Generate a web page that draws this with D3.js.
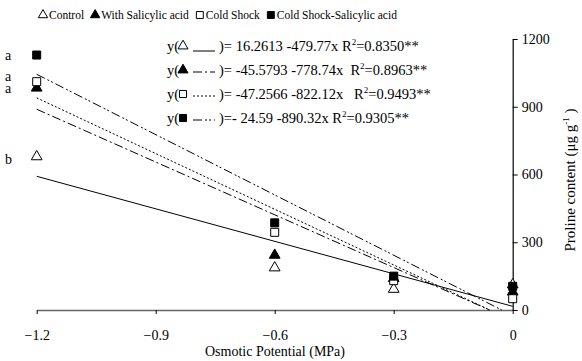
<!DOCTYPE html>
<html>
<head>
<meta charset="utf-8">
<script src="https://cdn.jsdelivr.net/npm/d3@7"></script>
<style>
  body { margin: 0; background: #fff; }
  svg, svg text { font-family: 'Liberation Serif', 'Times New Roman', 'DejaVu Serif', serif; }
</style>
</head>
<body>
<div id="chart"></div>
<script>
// Proline content vs osmotic potential

const xValues = [-1.2, -0.6, -0.3, 0];
const xTicks = [-1.2, -0.9, -0.6, -0.3, 0];
const yTicks = [0, 300, 600, 900, 1200];

const seriesNames = ['Control', 'With Salicylic acid', 'Cold Shock', 'Cold Shock-Salicylic acid'];
const controlVals = [679, 187, 92, 112];
const salicylicVals = [983, 243, 140, 80];
const coldVals = [1011, 344, 130, 50];
const coldSalVals = [1129, 386, 150, 105];

// regression: y = a + b x
const intercepts = [16.2613, -45.5793, -47.2566, -24.59];
const slopes = [-479.77, -778.74, -822.12, -890.32];
const eqTexts = [
  ')= 16.2613 -479.77x R',
  ')= -45.5793 -778.74x  R',
  ')= -47.2566 -822.12x   R',
  ')=- 24.59 -890.32x R'
];
const r2Texts = ['=0.8350**', '=0.8963**', '=0.9493**', '=0.9305**'];

// significance letters at -1.2
const letters = ['a', 'a', 'a', 'b'];
const letterVals = [1125, 1030, 978, 665];

const FONT = "'Liberation Serif', 'Times New Roman', serif";
const width = 582, height = 361;
const svg = d3.select('#chart').append('svg')
  .attr('width', width).attr('height', height)
  .attr('font-family', FONT);

const x = d3.scaleLinear().domain([-1.2, 0]).range([36.7, 512.7]);
const y = d3.scaleLinear().domain([0, 1200]).range([310, 39]);

const dashes = [null, '9,3,2,3', '2,2', '9,3,2,2,2,3'];
const markers = [
  { type: d3.symbolTriangle, fill: '#fff' },
  { type: d3.symbolTriangle, fill: '#000' },
  { type: d3.symbolSquare, fill: '#fff' },
  { type: d3.symbolSquare, fill: '#000' }
];
const allVals = [controlVals, salicylicVals, coldVals, coldSalVals];

// x axis
const xAxis = svg.append('g')
  .attr('transform', `translate(0,${y(0)})`)
  .call(d3.axisBottom(x).tickValues(xTicks).tickSize(4).tickSizeOuter(0)
    .tickFormat(d => d === 0 ? '0' : d3.format('.1f')(d)));
xAxis.attr('font-family', FONT);
xAxis.select('.domain').attr('stroke', '#666').attr('stroke-width', 1.3);
xAxis.selectAll('.tick line').attr('stroke', '#000');
xAxis.selectAll('.tick text')
  .attr('dy', 0).attr('y', 30)
  .attr('font-size', 14).attr('fill', '#000');

// y axis on the right
const yAxis = svg.append('g')
  .attr('transform', `translate(${x(0)},0)`)
  .call(d3.axisRight(y).tickValues(yTicks).tickSize(5).tickSizeOuter(0).tickFormat(d3.format('d')));
yAxis.attr('font-family', FONT);
yAxis.select('.domain').attr('stroke', '#000').attr('stroke-width', 1.2);
yAxis.selectAll('.tick text')
  .attr('x', 9)
  .attr('font-size', 14).attr('fill', '#000');

svg.append('text')
  .attr('x', 275).attr('y', 356)
  .attr('text-anchor', 'middle')
  .attr('font-size', 14)
  .text('Osmotic Potential (MPa)');

const yLab = svg.append('text')
  .attr('transform', 'translate(575,180) rotate(-90)')
  .attr('text-anchor', 'middle')
  .attr('font-size', 15);
yLab.append('tspan').text('Proline content (\u03bcg g');
yLab.append('tspan').attr('dy', -6).attr('font-size', 9).text('-1');
yLab.append('tspan').attr('dy', 6).text(' )');

// regression lines, cut where they reach zero
const lineGen = d3.line().x(d => x(d[0])).y(d => y(d[1]));
intercepts.forEach((a, i) => {
  const b = slopes[i];
  const xEnd = a < 0 ? -a / b : 0;
  const pts = [[-1.2, a + b * -1.2], [xEnd, a + b * xEnd]];
  svg.append('path')
    .attr('d', lineGen(pts))
    .attr('fill', 'none')
    .attr('stroke', '#000')
    .attr('stroke-width', 1)
    .attr('stroke-dasharray', dashes[i]);
});

// points
allVals.forEach((vals, i) => {
  const sym = d3.symbol().type(markers[i].type).size(markers[i].type === d3.symbolSquare ? 64 : 50);
  svg.append('g').selectAll('path')
    .data(vals)
    .enter().append('path')
    .attr('d', sym)
    .attr('transform', (d, j) => `translate(${x(xValues[j])},${y(d)})`)
    .attr('fill', markers[i].fill)
    .attr('stroke', '#000')
    .attr('stroke-width', 1);
});

// letters
svg.append('g').selectAll('text')
  .data(letters)
  .enter().append('text')
  .attr('x', 5)
  .attr('y', (d, i) => y(letterVals[i]) + 4)
  .attr('font-size', 14)
  .text(d => d);

// top legend
const legend = svg.append('g').attr('transform', 'translate(39,16)');
let lx = 0;
seriesNames.forEach((name, i) => {
  const sym = d3.symbol().type(markers[i].type).size(markers[i].type === d3.symbolSquare ? 48 : 38);
  legend.append('path')
    .attr('d', sym)
    .attr('transform', `translate(${lx + 4},-1)`)
    .attr('fill', markers[i].fill)
    .attr('stroke', '#000');
  const t = legend.append('text')
    .attr('x', lx + 10).attr('y', 3)
    .attr('font-size', 11.5)
    .text(name);
  lx += 10 + t.node().getComputedTextLength() + 7;
});

// equations
const eqTop = 51;
const eqStep = 24;
intercepts.forEach((a, i) => {
  const g = svg.append('g').attr('transform', `translate(167,${eqTop + i * eqStep})`);
  g.append('text').attr('x', 0).attr('y', 0).attr('font-size', 14.5).text('y(');
  const sym = d3.symbol().type(markers[i].type).size(markers[i].type === d3.symbolSquare ? 50 : 44);
  g.append('path')
    .attr('d', sym)
    .attr('transform', 'translate(16,-5)')
    .attr('fill', markers[i].fill)
    .attr('stroke', '#000');
  g.append('line')
    .attr('x1', 26).attr('x2', 48)
    .attr('y1', i === 0 ? 0 : -3).attr('y2', i === 0 ? 0 : -3)
    .attr('stroke', '#000')
    .attr('stroke-dasharray', dashes[i]);
  const t = g.append('text').attr('x', 52).attr('y', 0).attr('font-size', 14.5)
    .style('white-space', 'pre');
  t.append('tspan').text(eqTexts[i]);
  t.append('tspan').attr('dy', -6).attr('font-size', 9).text('2');
  t.append('tspan').attr('dy', 6).text(r2Texts[i]);
});
</script>
</body>
</html>
